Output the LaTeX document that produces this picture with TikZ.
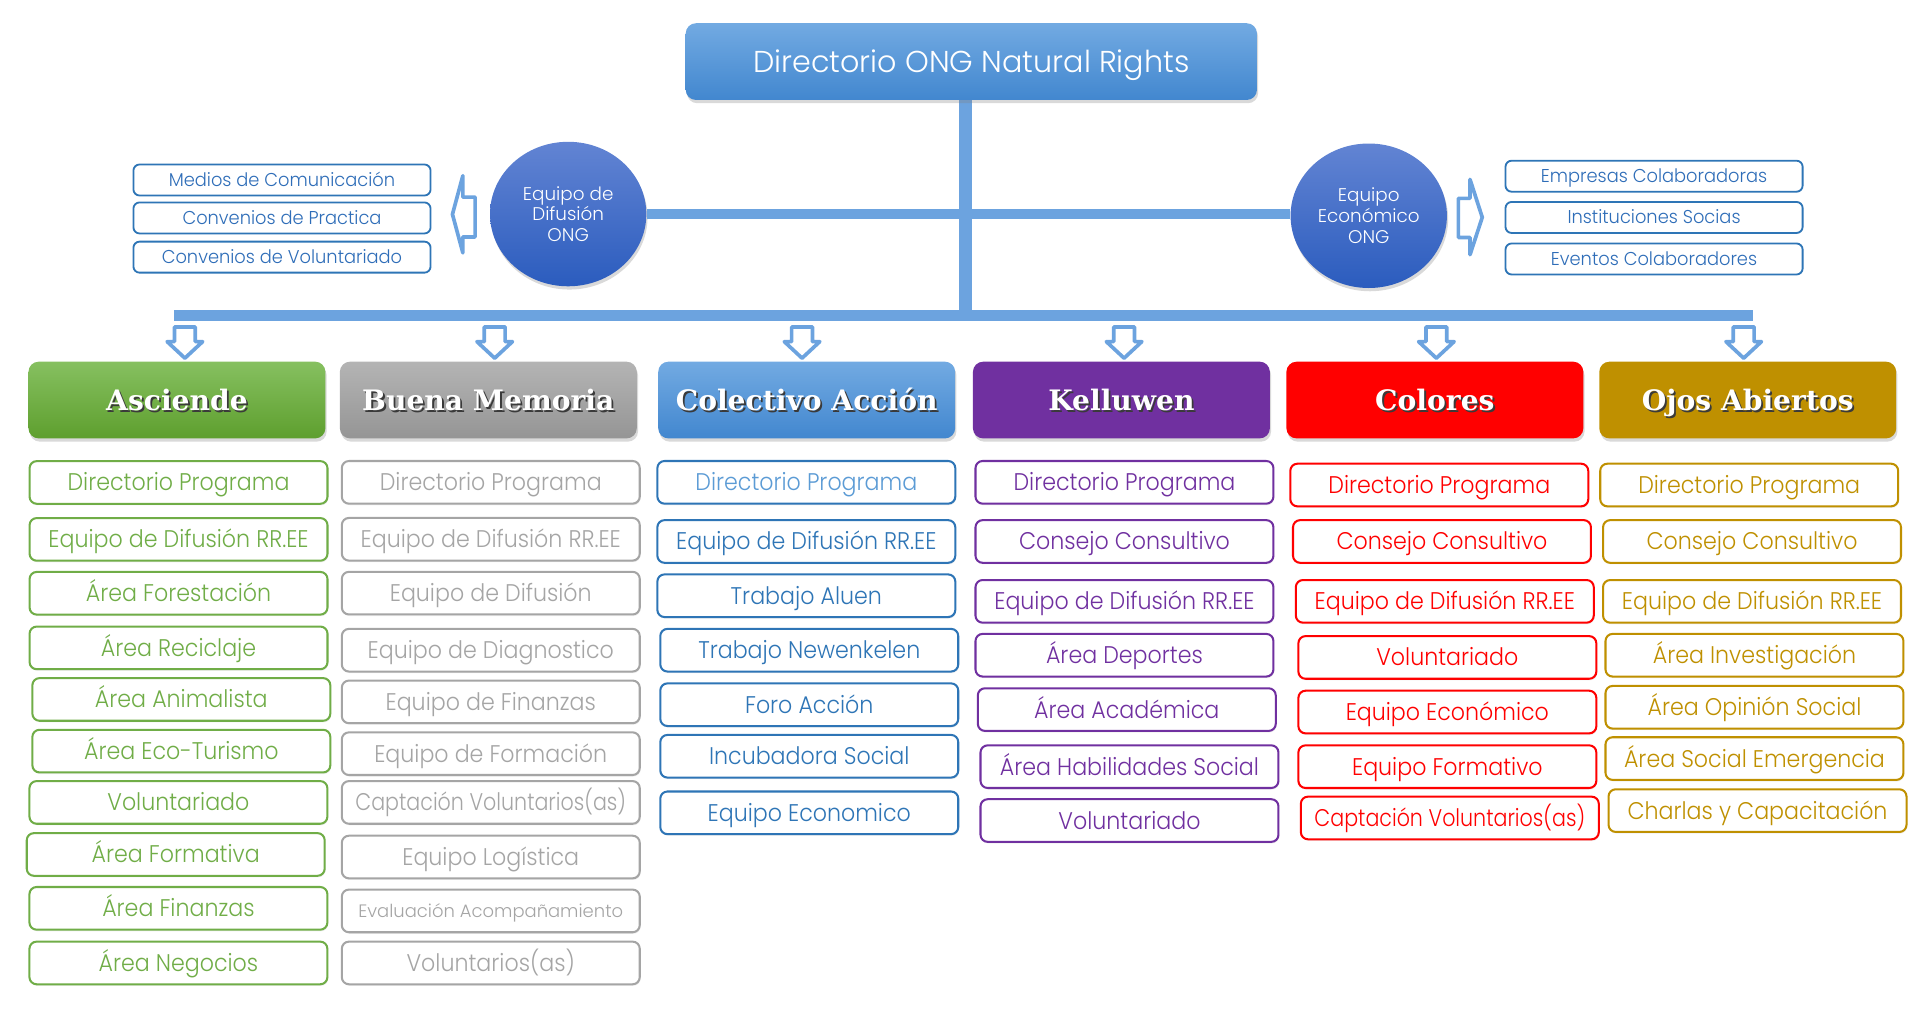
\documentclass[tikz,border=0pt]{standalone}
\usepackage{fontspec}
\usepackage{graphicx}
\setmainfont{Poppins}[UprightFont={* Light}]
\newfontfamily\listfamily{Poppins}[UprightFont={* Light},FakeStretch=0.92]
\newfontfamily\smallfamily{Poppins}[UprightFont={* Light},FakeStretch=0.96]
\newfontfamily\headfont{DejaVu Serif}
\usetikzlibrary{shapes.geometric,shadows}

\definecolor{lineblue}{HTML}{6CA3DF}
\definecolor{cgreen}{HTML}{70AD47}
\definecolor{cgray}{HTML}{A5A5A5}
\definecolor{cblue}{HTML}{2E75B6}
\definecolor{cblueL}{HTML}{5B9BD5}
\definecolor{cpurple}{HTML}{7030A0}
\definecolor{cred}{HTML}{FF0000}
\definecolor{cgold}{HTML}{BF9000}
\definecolor{smallblue}{HTML}{2E6DB8}
\definecolor{hgreenT}{HTML}{86C060}
\definecolor{hgreenB}{HTML}{5E9F2E}
\definecolor{hgrayT}{HTML}{B4B4B4}
\definecolor{hgrayB}{HTML}{959595}
\definecolor{hblueT}{HTML}{72AAE2}
\definecolor{hblueB}{HTML}{4287CF}
\definecolor{circT}{HTML}{6284D3}
\definecolor{circB}{HTML}{2B5CBE}
\definecolor{hshadow}{HTML}{3A3A3A}

\newcommand\lfont{\listfamily\fontsize{11.8}{13}\selectfont}
\newcommand\evfont{\fontsize{8.8}{10}\selectfont}
\newcommand\smallfont{\smallfamily\fontsize{9.1}{11}\selectfont}
\newcommand\cfont{\fontsize{9}{10.2}\selectfont}
\newcommand\tfont{\fontsize{14.8}{17}\selectfont}
\newcommand\hfont{\headfont\bfseries\fontsize{13.8}{16}\selectfont}
\newcommand\shtext[1]{\makebox[0pt][l]{\hspace{0.9pt}\raisebox{-0.9pt}{\textcolor{hshadow}{#1}}}\textcolor{white}{#1}}
\newcommand\narrowtxt[1]{\scalebox{0.93}[1]{#1}}

\tikzset{
  lbox/.style={draw=#1, text=#1, line width=1pt, rounded corners=3.5pt, fill=white,
    minimum width=146pt, minimum height=20.9pt, inner sep=0pt, font=\lfont,
    text height=8.3pt, text depth=0pt,
    drop shadow={shadow xshift=0.4pt, shadow yshift=-0.8pt, opacity=0.12}},
  sbox/.style={draw=cblue, text=smallblue, line width=0.9pt, rounded corners=3pt, fill=white,
    minimum width=145.6pt, minimum height=15.2pt, inner sep=0pt, font=\smallfont,
    text height=6.4pt, text depth=0pt},
  hbox/.style={rounded corners=5pt, minimum width=145.5pt, minimum height=37.6pt,
    inner sep=0pt, font=\hfont, text height=10.1pt, text depth=0pt,
    drop shadow={shadow xshift=0.6pt, shadow yshift=-1.6pt, opacity=0.3}},
  circ/.style={ellipse, minimum width=76.6pt, minimum height=70.8pt, inner sep=0pt,
    top color=circT, bottom color=circB, text=white, font=\cfont, align=center,
    drop shadow={shadow xshift=0.6pt, shadow yshift=-1.6pt, opacity=0.3}},
  conn/.style={draw=lineblue, line cap=butt},
  blockarrow/.style={draw=lineblue, fill=white, line width=1.8pt, line join=round},
}

\newcommand\darrow[1]{%
  \draw[blockarrow] (#1-8.5,267) -- (#1+8.5,267) -- (#1+8.5,279) -- (#1+14.5,279)
    -- (#1,292.5) -- (#1-14.5,279) -- (#1-8.5,279) -- cycle;}

\begin{document}
\begin{tikzpicture}[x=0.6pt,y=-0.6pt]
\useasboundingbox (0,0) rectangle (1568,835.45);

% ---------- connectors ----------
\coordinate (trunkT) at (788.5,70);
\coordinate (trunkB) at (788.5,261.5);
\coordinate (busL) at (142,257.5);
\coordinate (busR) at (1431.6,257.5);
\draw[conn, line width=6.6pt] (trunkT) -- (trunkB);
\draw[conn, line width=5.4pt] (busL) -- (busR);

% ---------- top box ----------
\node[hbox, top color=hblueT, bottom color=hblueB, minimum width=279.9pt, font=\tfont,
  text=white, text height=10.4pt] (top) at (793.25,50.3) {Directorio ONG Natural Rights};

% ---------- circles ----------
\node[circ] (cl) at (464,174.8) {Equipo de\\Difusión\\ONG};
\node[circ] (cr) at (1117.8,176.2) {Equipo\\Económico\\ONG};
\draw[conn, line width=4.8pt] (cl.east) -- (cl.east -| cr.west);

% ---------- side lists ----------
\node[sbox] (s1) at (230.3,147) {Medios de Comunicación};
\node[sbox] (s2) at (230.3,178) {Convenios de Practica};
\node[sbox] (s3) at (230.3,210) {Convenios de Voluntariado};
\node[sbox] (e1) at (1350.8,143.9) {Empresas Colaboradoras};
\node[sbox] (e2) at (1350.8,177.6) {Instituciones Socias};
\node[sbox] (e3) at (1350.8,211.5) {Eventos Colaboradores};

% side block arrows
\draw[blockarrow] (388,161) -- (378,161) -- (378,143.5) -- (369.5,175) -- (378,206.5)
  -- (378,193.5) -- (388,193.5) -- cycle;
\draw[blockarrow] (1191,162) -- (1200.5,162) -- (1200.5,146.5) -- (1210.5,177.5) -- (1200.5,208)
  -- (1200.5,194) -- (1191,194) -- cycle;

% ---------- down arrows ----------
\darrow{151}
\darrow{404}
\darrow{655}
\darrow{918}
\darrow{1173}
\darrow{1424}

% ---------- headers ----------
\node[hbox, top color=hgreenT, bottom color=hgreenB] (hA) at (144.5,326.7) {\shtext{Asciende}};
\node[hbox, top color=hgrayT, bottom color=hgrayB] (hB) at (398.8,326.7) {\shtext{Buena Memoria}};
\node[hbox, top color=hblueT, bottom color=hblueB] (hC) at (658.8,326.7) {\shtext{Colectivo Acción}};
\node[hbox, fill=cpurple] (hK) at (915.8,326.7) {\shtext{Kelluwen}};
\node[hbox, fill=cred] (hR) at (1171.8,326.7) {\shtext{Colores}};
\node[hbox, fill=cgold] (hO) at (1427.3,326.7) {\shtext{Ojos Abiertos}};

% ---------- column 1: Asciende ----------
\node[lbox=cgreen] (a1) at (145.8,394) {Directorio Programa};
\node[lbox=cgreen] (a2) at (145.8,440.5) {Equipo de Difusión RR.EE};
\node[lbox=cgreen] (a3) at (145.8,484.5) {Área Forestación};
\node[lbox=cgreen] (a4) at (145.8,529.1) {Área Reciclaje};
\node[lbox=cgreen] (a5) at (148.1,571.2) {Área Animalista};
\node[lbox=cgreen] (a6) at (148.1,613.4) {Área Eco-Turismo};
\node[lbox=cgreen] (a7) at (145.7,655.3) {Voluntariado};
\node[lbox=cgreen] (a8) at (143.5,697.8) {Área Formativa};
\node[lbox=cgreen] (a9) at (145.7,741.8) {Área Finanzas};
\node[lbox=cgreen] (a10) at (145.7,786.4) {Área Negocios};

% ---------- column 2: Buena Memoria ----------
\node[lbox=cgray] (b1) at (400.8,393.9) {Directorio Programa};
\node[lbox=cgray] (b2) at (400.8,440.4) {Equipo de Difusión RR.EE};
\node[lbox=cgray] (b3) at (400.8,484.4) {Equipo de Difusión};
\node[lbox=cgray] (b4) at (400.8,531) {Equipo de Diagnostico};
\node[lbox=cgray] (b5) at (400.8,573.2) {Equipo de Finanzas};
\node[lbox=cgray] (b6) at (400.8,615.5) {Equipo de Formación};
\node[lbox=cgray] (b7) at (400.8,655.3) {\narrowtxt{Captación Voluntarios(as)}};
\node[lbox=cgray] (b8) at (400.8,699.9) {Equipo Logística};
\node[lbox=cgray, font=\evfont, text height=6.2pt] (b9) at (400.8,743.9) {Evaluación Acompañamiento};
\node[lbox=cgray] (b10) at (400.8,786.4) {Voluntarios(as)};

% ---------- column 3: Colectivo Acción ----------
\node[lbox=cblue, text=cblueL] (c1) at (658.5,393.9) {Directorio Programa};
\node[lbox=cblue] (c2) at (658.5,442.2) {Equipo de Difusión RR.EE};
\node[lbox=cblue] (c3) at (658.5,486.5) {Trabajo Aluen};
\node[lbox=cblue] (c4) at (660.9,531) {Trabajo Newenkelen};
\node[lbox=cblue] (c5) at (660.9,575.5) {Foro Acción};
\node[lbox=cblue] (c6) at (660.9,617.6) {Incubadora Social};
\node[lbox=cblue] (c7) at (660.9,663.8) {Equipo Economico};

% ---------- column 4: Kelluwen ----------
\node[lbox=cpurple] (k1) at (918.3,393.9) {Directorio Programa};
\node[lbox=cpurple] (k2) at (918.3,442.2) {Consejo Consultivo};
\node[lbox=cpurple] (k3) at (918.3,491.1) {Equipo de Difusión RR.EE};
\node[lbox=cpurple] (k4) at (918.3,535.1) {Área Deportes};
\node[lbox=cpurple] (k5) at (920.2,579.5) {Área Académica};
\node[lbox=cpurple] (k6) at (922.4,626.1) {Área Habilidades Social};
\node[lbox=cpurple] (k7) at (922.4,670.1) {Voluntariado};

% ---------- column 5: Colores ----------
\node[lbox=cred] (r1) at (1175.4,396.1) {Directorio Programa};
\node[lbox=cred] (r2) at (1177.6,442.2) {Consejo Consultivo};
\node[lbox=cred] (r3) at (1179.9,491.1) {Equipo de Difusión RR.EE};
\node[lbox=cred] (r4) at (1182,536.9) {Voluntariado};
\node[lbox=cred] (r5) at (1182,581.5) {Equipo Económico};
\node[lbox=cred] (r6) at (1182,626.1) {Equipo Formativo};
\node[lbox=cred] (r7) at (1184,668) {\narrowtxt{Captación Voluntarios(as)}};

% ---------- column 6: Ojos Abiertos ----------
\node[lbox=cgold] (o1) at (1428.5,396.1) {Directorio Programa};
\node[lbox=cgold] (o2) at (1430.8,442.2) {Consejo Consultivo};
\node[lbox=cgold] (o3) at (1430.8,491.1) {Equipo de Difusión RR.EE};
\node[lbox=cgold] (o4) at (1432.8,535.1) {Área Investigación};
\node[lbox=cgold] (o5) at (1432.8,577.6) {Área Opinión Social};
\node[lbox=cgold] (o6) at (1432.8,619.5) {Área Social Emergencia};
\node[lbox=cgold] (o7) at (1435.3,662) {Charlas y Capacitación};
\end{tikzpicture}
\end{document}
